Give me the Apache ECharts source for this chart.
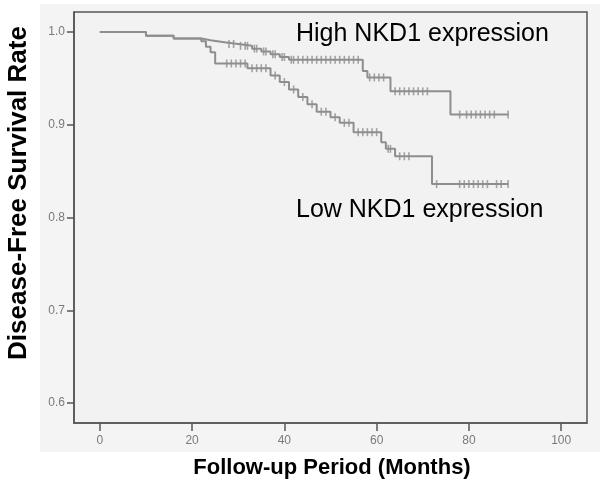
<!DOCTYPE html>
<html>
<head>
<meta charset="utf-8">
<script src="https://cdn.jsdelivr.net/npm/echarts@6/dist/echarts.min.js"></script>
<style>html,body{margin:0;padding:0;background:#fff;}#c{width:600px;height:490px;}</style>
</head>
<body>
<div id="c"></div>
<script>
// High NKD1 expression: event times and survival after each time
var highTimes = [0, 10, 16, 22, 24, 27, 30, 33, 35, 37, 39, 41, 57, 58, 63, 76];
var highSurv  = [1.0, 0.996, 0.993, 0.991, 0.989, 0.987, 0.985, 0.982, 0.979, 0.976, 0.973, 0.970, 0.958, 0.951, 0.936, 0.911];
var highCensor = [28, 29, 30.5, 31.5, 32, 33.5, 34, 35.5, 36, 37.5, 38, 39.5, 40, 41.5, 42, 43, 44, 45, 46, 47, 48, 49, 50, 51, 52, 53, 54, 55, 56,
                  58.5, 59.5, 60.5, 61.5, 64, 65, 66, 67, 68, 69, 70, 71, 78, 79.5, 80.5, 81.5, 82.5, 83.5, 84.5, 85.5, 88.5];
var highEnd = 88.5;

// Low NKD1 expression
var lowTimes = [0, 10, 16, 22, 23, 24, 25, 32, 37, 39, 41, 43, 45, 47, 50, 52, 55, 61, 62, 64, 72];
var lowSurv  = [1.0, 0.996, 0.993, 0.990, 0.984, 0.978, 0.966, 0.961, 0.953, 0.946, 0.938, 0.930, 0.922, 0.914, 0.908, 0.902, 0.892, 0.881, 0.874, 0.866, 0.836];
var lowCensor = [27.5, 28.5, 29.5, 30.5, 31.5, 33, 34, 35, 36, 38, 40, 42, 44, 46, 48, 49, 51, 53, 54, 56, 57, 58, 59, 60,
                 62.5, 63, 65, 66, 67, 73, 78, 79, 80, 81, 82, 83, 84, 86, 87, 88.5];
var lowEnd = 88.5;

var xTicks = [0, 20, 40, 60, 80, 100];
var yTicks = [0.6, 0.7, 0.8, 0.9, 1.0];

var labelHigh = 'High NKD1 expression';
var labelLow = 'Low NKD1 expression';
var xTitle = 'Follow-up Period (Months)';
var yTitle = 'Disease-Free Survival Rate';

function stepData(times, surv, end) {
  var d = times.map(function (t, i) { return [t, surv[i]]; });
  d.push([end, surv[surv.length - 1]]);
  return d;
}
function survAt(times, surv, t) {
  var s = surv[0];
  for (var i = 0; i < times.length; i++) { if (times[i] <= t) s = surv[i]; }
  return s;
}
function censorData(times, surv, cens) {
  return cens.map(function (t) { return [t, survAt(times, surv, t)]; });
}

var FONT = 'Arial, "Liberation Sans", sans-serif';
var LINE = '#8e8e8e';

var chart = echarts.init(document.getElementById('c'), null, { renderer: 'canvas' });
chart.setOption({
  animation: false,
  backgroundColor: '#ffffff',
  graphic: [
    { type: 'rect', z: -10, shape: { x: 40, y: 4, width: 560, height: 448 }, style: { fill: '#f4f4f4' } },
    { type: 'text', z: 10, left: 296, top: 22, style: { text: labelHigh, font: '25px ' + FONT, fill: '#000' } },
    { type: 'text', z: 10, left: 296, top: 198, style: { text: labelLow, font: '25px ' + FONT, fill: '#000' } },
    { type: 'text', z: 10, x: 19, y: 193, rotation: Math.PI / 2,
      style: { text: yTitle, font: 'bold 26px ' + FONT, fill: '#000', align: 'center', verticalAlign: 'middle' } },
    { type: 'text', z: 10, x: 332, y: 468,
      style: { text: xTitle, font: 'bold 22px ' + FONT, fill: '#000', align: 'center', verticalAlign: 'middle' } }
  ],
  grid: {
    left: 74, top: 12, right: 13, bottom: 67, outerBoundsMode: 'none', containLabel: false,
    show: true, backgroundColor: '#f2f2f2', borderColor: '#555', borderWidth: 1.5
  },
  xAxis: {
    type: 'value', min: -5.6, max: 105.6,
    axisLine: { show: true, onZero: false, lineStyle: { color: '#555', width: 1.5 } },
    axisTick: { show: true, inside: false, length: 8, customValues: xTicks, lineStyle: { color: '#555', width: 1.5 } },
    axisLabel: { customValues: xTicks, margin: 12, fontFamily: FONT, fontSize: 12, color: '#7a7a7a' },
    splitLine: { show: false }
  },
  yAxis: {
    type: 'value', min: 0.5785, max: 1.0215,
    axisLine: { show: true, onZero: false, lineStyle: { color: '#555', width: 1.5 } },
    axisTick: { show: true, inside: false, length: 7, customValues: yTicks, lineStyle: { color: '#555', width: 1.5 } },
    axisLabel: { customValues: yTicks, margin: 9, fontFamily: FONT, fontSize: 12, color: '#7a7a7a',
      formatter: function (v) { return v.toFixed(1); } },
    splitLine: { show: false }
  },
  series: [
    { type: 'line', step: 'end', data: stepData(highTimes, highSurv, highEnd), showSymbol: false,
      lineStyle: { color: LINE, width: 2 } },
    { type: 'line', step: 'end', data: stepData(lowTimes, lowSurv, lowEnd), showSymbol: false,
      lineStyle: { color: LINE, width: 2 } },
    { type: 'scatter', data: censorData(highTimes, highSurv, highCensor), symbol: 'rect', symbolSize: [1.6, 8],
      itemStyle: { color: LINE } },
    { type: 'scatter', data: censorData(lowTimes, lowSurv, lowCensor), symbol: 'rect', symbolSize: [1.6, 8],
      itemStyle: { color: LINE } }
  ]
});
</script>
</body>
</html>
